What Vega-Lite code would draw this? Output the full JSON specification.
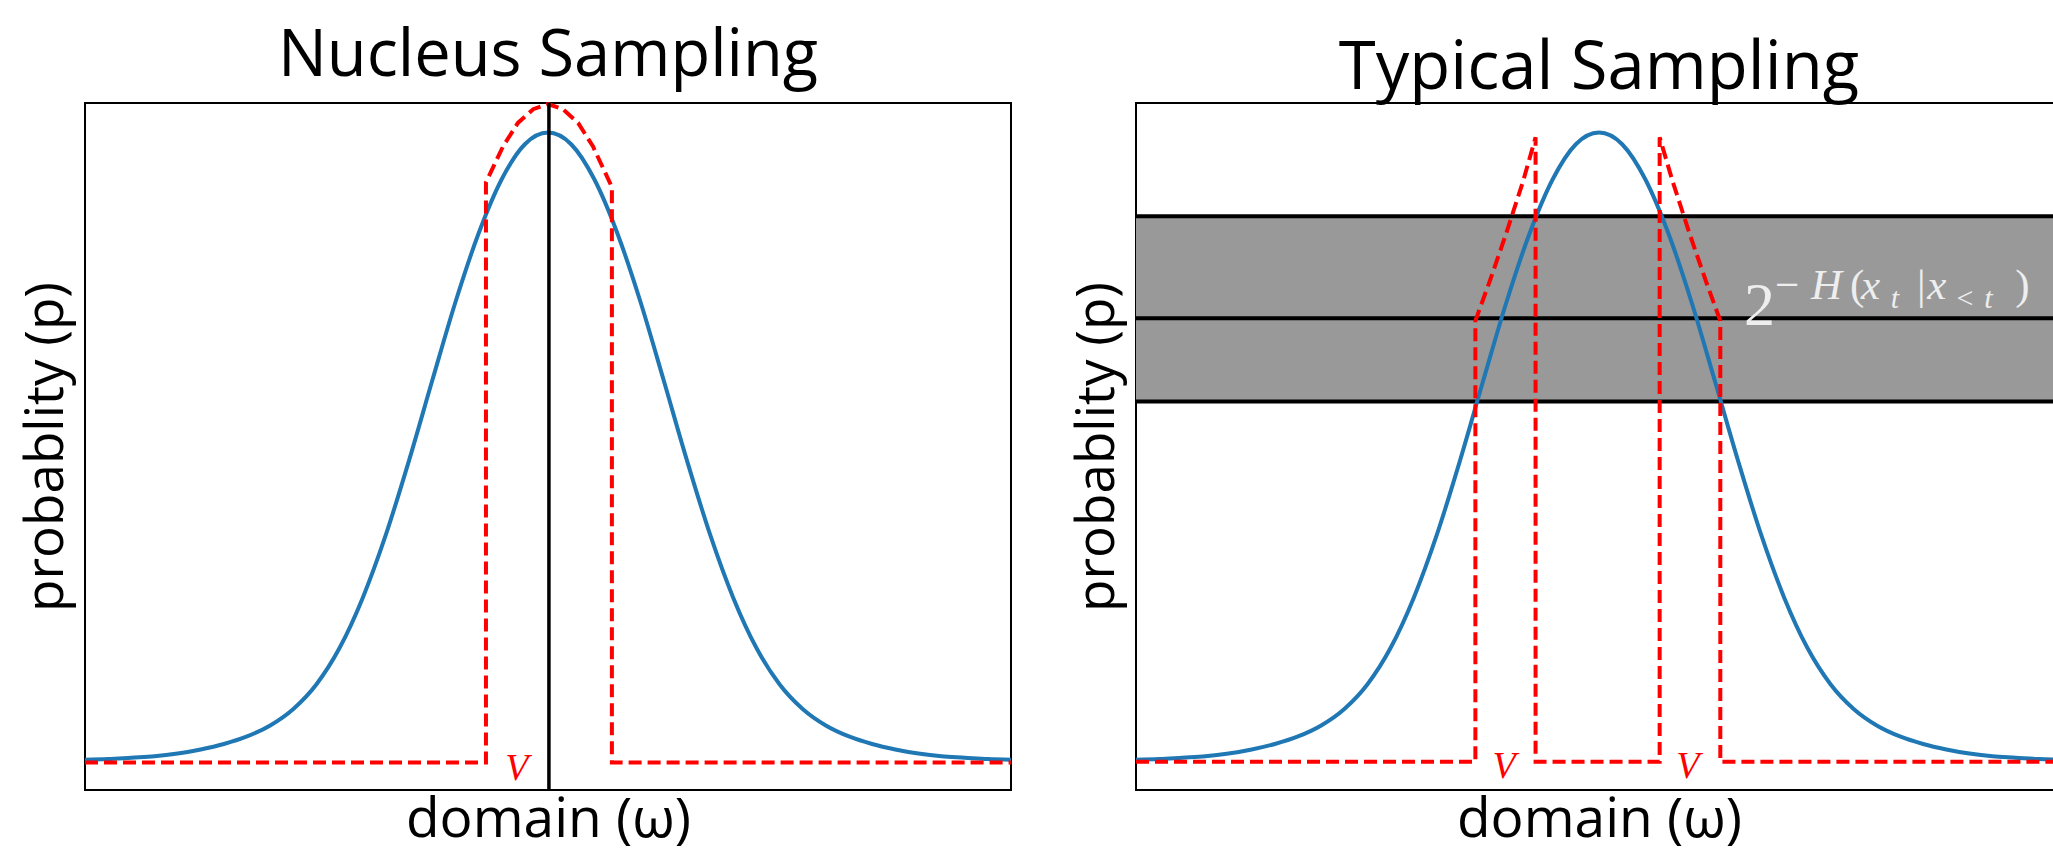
{
  "$schema": "https://vega.github.io/schema/vega-lite/v6.json",
  "background": "white",
  "padding": {"left": 19, "top": 23, "right": 0, "bottom": 0},
  "spacing": 125,
  "bounds": "flush",
  "config": {
    "view": {"stroke": "black", "strokeWidth": 2},
    "axis": {"labels": false, "ticks": false, "domain": false, "grid": false, "titleFont": "Open Sans", "titleFontSize": 53, "titleFontWeight": "normal", "titleColor": "black"},
    "axisX": {"titlePadding": 3, "titleFontSize": 55},
    "axisY": {"titlePadding": 12},
    "title": {"font": "Open Sans", "fontWeight": "normal", "color": "black"}
  },
  "datasets": {
    "blue": [
      {"x": -1.00, "p": 0.044}, {"x": -0.95, "p": 0.045}, {"x": -0.90, "p": 0.047}, {"x": -0.85, "p": 0.049},
      {"x": -0.80, "p": 0.053}, {"x": -0.75, "p": 0.059}, {"x": -0.70, "p": 0.067}, {"x": -0.65, "p": 0.078},
      {"x": -0.60, "p": 0.094}, {"x": -0.55, "p": 0.118}, {"x": -0.50, "p": 0.154}, {"x": -0.45, "p": 0.207},
      {"x": -0.40, "p": 0.280}, {"x": -0.35, "p": 0.372}, {"x": -0.30, "p": 0.480}, {"x": -0.25, "p": 0.596},
      {"x": -0.20, "p": 0.710}, {"x": -0.15, "p": 0.810}, {"x": -0.10, "p": 0.889}, {"x": -0.05, "p": 0.940},
      {"x": 0.00, "p": 0.957},
      {"x": 0.05, "p": 0.940}, {"x": 0.10, "p": 0.889}, {"x": 0.15, "p": 0.810}, {"x": 0.20, "p": 0.710},
      {"x": 0.25, "p": 0.596}, {"x": 0.30, "p": 0.480}, {"x": 0.35, "p": 0.372}, {"x": 0.40, "p": 0.280},
      {"x": 0.45, "p": 0.207}, {"x": 0.50, "p": 0.154}, {"x": 0.55, "p": 0.118}, {"x": 0.60, "p": 0.094},
      {"x": 0.65, "p": 0.078}, {"x": 0.70, "p": 0.067}, {"x": 0.75, "p": 0.059}, {"x": 0.80, "p": 0.053},
      {"x": 0.85, "p": 0.049}, {"x": 0.90, "p": 0.047}, {"x": 0.95, "p": 0.045}, {"x": 1.00, "p": 0.044}
    ],
    "redNucleus": [
      {"i": 0, "x": -1, "p": 0.040}, {"i": 1, "x": -0.134, "p": 0.040}, {"i": 2, "x": -0.134, "p": 0.8845},
      {"i": 3, "x": -0.097, "p": 0.937}, {"i": 4, "x": -0.065, "p": 0.971}, {"i": 5, "x": -0.032, "p": 0.991},
      {"i": 6, "x": 0, "p": 0.9985}, {"i": 7, "x": 0.032, "p": 0.991}, {"i": 8, "x": 0.065, "p": 0.971},
      {"i": 9, "x": 0.097, "p": 0.937}, {"i": 10, "x": 0.138, "p": 0.8776}, {"i": 11, "x": 0.138, "p": 0.040},
      {"i": 12, "x": 1, "p": 0.040}
    ],
    "redTypical": [
      {"i": 0, "x": -1, "p": 0.041}, {"i": 1, "x": -0.267, "p": 0.041}, {"i": 2, "x": -0.267, "p": 0.683},
      {"i": 3, "x": -0.236, "p": 0.7405}, {"i": 4, "x": -0.201, "p": 0.809}, {"i": 5, "x": -0.164, "p": 0.886},
      {"i": 6, "x": -0.137, "p": 0.950}, {"i": 7, "x": -0.137, "p": 0.041}, {"i": 8, "x": 0.131, "p": 0.041},
      {"i": 9, "x": 0.131, "p": 0.950}, {"i": 10, "x": 0.159, "p": 0.886}, {"i": 11, "x": 0.196, "p": 0.809},
      {"i": 12, "x": 0.231, "p": 0.7405}, {"i": 13, "x": 0.262, "p": 0.683}, {"i": 14, "x": 0.262, "p": 0.041},
      {"i": 15, "x": 1, "p": 0.041}
    ]
  },
  "hconcat": [
    {
      "width": 926,
      "height": 687,
      "title": {"text": "Nucleus Sampling", "offset": 6, "fontSize": 65},
      "layer": [
        {
          "data": {"name": "blue"},
          "mark": {"type": "line", "color": "#1f77b4", "strokeWidth": 4, "interpolate": "monotone"},
          "encoding": {
            "x": {"field": "x", "type": "quantitative", "scale": {"domain": [-1, 1], "nice": false, "zero": false}, "axis": {"title": "domain (ω)"}},
            "y": {"field": "p", "type": "quantitative", "scale": {"domain": [0, 1], "nice": false, "zero": false}, "axis": {"title": "probablity (p)"}}
          }
        },
        {
          "data": {"name": "redNucleus"},
          "mark": {"type": "line", "color": "#ff0000", "strokeWidth": 4, "strokeDash": [13, 6]},
          "encoding": {
            "x": {"field": "x", "type": "quantitative"},
            "y": {"field": "p", "type": "quantitative"},
            "order": {"field": "i", "type": "quantitative"}
          }
        },
        {
          "data": {"values": [{"x": 0.002}]},
          "mark": {"type": "rule", "color": "black", "strokeWidth": 3.5},
          "encoding": {"x": {"field": "x", "type": "quantitative"}}
        },
        {
          "data": {"values": [{"x": -0.067, "p": 0.031, "t": "V"}]},
          "mark": {"type": "text", "font": "Liberation Serif", "fontStyle": "italic", "fontSize": 38, "color": "#ff0000", "align": "center", "baseline": "middle"},
          "encoding": {
            "x": {"field": "x", "type": "quantitative"},
            "y": {"field": "p", "type": "quantitative"},
            "text": {"field": "t"}
          }
        }
      ]
    },
    {
      "width": 926,
      "height": 687,
      "title": {"text": "Typical Sampling", "offset": 0, "fontSize": 67},
      "layer": [
        {
          "data": {"values": [{"x": -1, "x2": 1, "p": 0.5656, "p2": 0.835}]},
          "mark": {"type": "rect", "color": "#999999"},
          "encoding": {
            "x": {"field": "x", "type": "quantitative", "scale": {"domain": [-1, 1], "nice": false, "zero": false}, "axis": {"title": "domain (ω)"}},
            "x2": {"field": "x2"},
            "y": {"field": "p", "type": "quantitative", "scale": {"domain": [0, 1], "nice": false, "zero": false}, "axis": {"title": "probablity (p)"}},
            "y2": {"field": "p2"}
          }
        },
        {
          "data": {"values": [{"p": 0.835}, {"p": 0.6866}, {"p": 0.5656}]},
          "mark": {"type": "rule", "color": "black", "strokeWidth": 4},
          "encoding": {"y": {"field": "p", "type": "quantitative"}}
        },
        {
          "data": {"name": "blue"},
          "mark": {"type": "line", "color": "#1f77b4", "strokeWidth": 4, "interpolate": "monotone"},
          "encoding": {
            "x": {"field": "x", "type": "quantitative"},
            "y": {"field": "p", "type": "quantitative"}
          }
        },
        {
          "data": {"name": "redTypical"},
          "mark": {"type": "line", "color": "#ff0000", "strokeWidth": 4, "strokeDash": [13, 6]},
          "encoding": {
            "x": {"field": "x", "type": "quantitative"},
            "y": {"field": "p", "type": "quantitative"},
            "order": {"field": "i", "type": "quantitative"}
          }
        },
        {
          "data": {"values": [{"x": -0.205, "p": 0.0335, "t": "V"}, {"x": 0.192, "p": 0.0335, "t": "V"}]},
          "mark": {"type": "text", "font": "Liberation Serif", "fontStyle": "italic", "fontSize": 38, "color": "#ff0000", "align": "center", "baseline": "middle"},
          "encoding": {
            "x": {"field": "x", "type": "quantitative"},
            "y": {"field": "p", "type": "quantitative"},
            "text": {"field": "t"}
          }
        },
        {
          "data": {"values": [{"x": 0.313, "p": 0.677, "t": "2"}]},
          "mark": {"type": "text", "font": "Liberation Serif", "fontSize": 62, "color": "#eeeeee", "align": "left", "baseline": "alphabetic"},
          "encoding": {
            "x": {"field": "x", "type": "quantitative"},
            "y": {"field": "p", "type": "quantitative"},
            "text": {"field": "t"}
          }
        },
        {
          "data": {"values": [{"x": 0.380, "p": 0.714, "t": "−"}, {"x": 0.542, "p": 0.714, "t": "("}, {"x": 0.687, "p": 0.714, "t": "|"}, {"x": 0.899, "p": 0.714, "t": ")"}]},
          "mark": {"type": "text", "font": "Liberation Serif", "fontSize": 43, "color": "#eeeeee", "align": "left", "baseline": "alphabetic"},
          "encoding": {
            "x": {"field": "x", "type": "quantitative"},
            "y": {"field": "p", "type": "quantitative"},
            "text": {"field": "t"}
          }
        },
        {
          "data": {"values": [{"x": 0.458, "p": 0.714, "t": "H"}, {"x": 0.566, "p": 0.714, "t": "x"}, {"x": 0.709, "p": 0.714, "t": "x"}]},
          "mark": {"type": "text", "font": "Liberation Serif", "fontStyle": "italic", "fontSize": 43, "color": "#eeeeee", "align": "left", "baseline": "alphabetic"},
          "encoding": {
            "x": {"field": "x", "type": "quantitative"},
            "y": {"field": "p", "type": "quantitative"},
            "text": {"field": "t"}
          }
        },
        {
          "data": {"values": [{"x": 0.630, "p": 0.701, "t": "t"}, {"x": 0.832, "p": 0.701, "t": "t"}]},
          "mark": {"type": "text", "font": "Liberation Serif", "fontStyle": "italic", "fontSize": 30, "color": "#eeeeee", "align": "left", "baseline": "alphabetic"},
          "encoding": {
            "x": {"field": "x", "type": "quantitative"},
            "y": {"field": "p", "type": "quantitative"},
            "text": {"field": "t"}
          }
        },
        {
          "data": {"values": [{"x": 0.772, "p": 0.701, "t": "<"}]},
          "mark": {"type": "text", "font": "Liberation Serif", "fontSize": 30, "color": "#eeeeee", "align": "left", "baseline": "alphabetic"},
          "encoding": {
            "x": {"field": "x", "type": "quantitative"},
            "y": {"field": "p", "type": "quantitative"},
            "text": {"field": "t"}
          }
        }
      ]
    }
  ]
}
